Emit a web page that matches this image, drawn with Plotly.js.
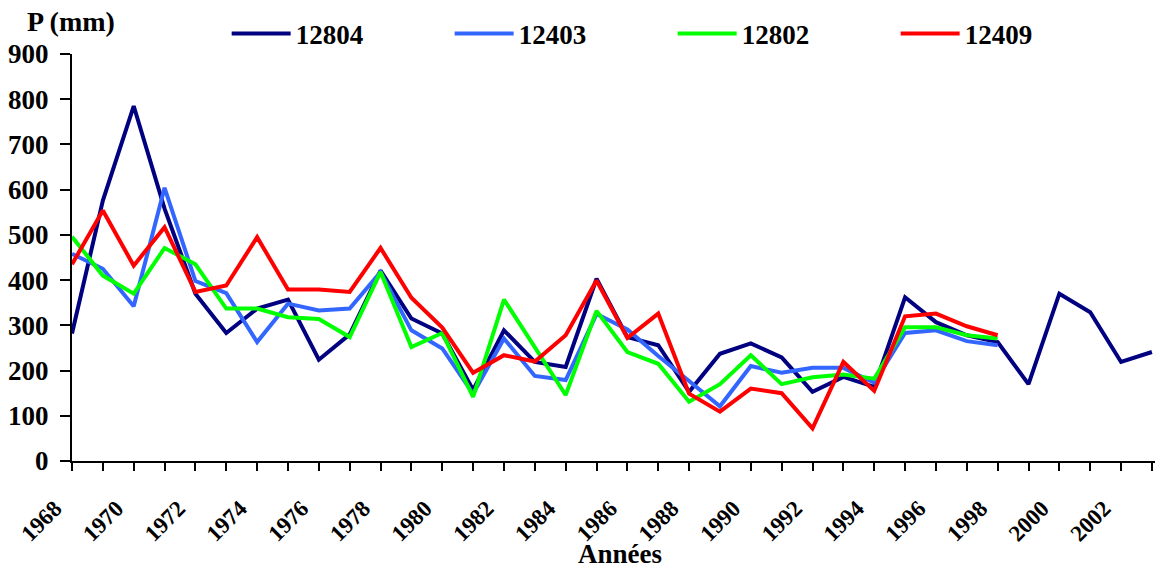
<!DOCTYPE html>
<html>
<head>
<meta charset="utf-8">
<script src="https://cdn.plot.ly/plotly-3.0.1.min.js"></script>
<style>html,body{margin:0;padding:0;background:#fff;}#chart{width:1155px;height:569px;}</style>
</head>
<body>
<div id="chart"></div>
<script>
const years = [1968,1969,1970,1971,1972,1973,1974,1975,1976,1977,1978,1979,1980,1981,1982,1983,1984,1985,1986,1987,1988,1989,1990,1991,1992,1993,1994,1995,1996,1997,1998,1999,2000,2001,2002,2003];

const s12804 = [282,576,785,558,370,283,337,357,224,280,421,315,282,157,289,219,208,403,274,256,153,237,260,229,153,186,164,362,307,278,263,170,370,329,219,241];
const s12403 = [458,425,342,604,398,371,263,348,333,337,418,289,249,149,271,188,179,325,291,232,177,121,210,195,206,206,173,283,289,265,256];
const s12802 = [496,410,370,471,435,337,337,318,314,274,418,252,283,142,357,250,146,332,241,215,131,170,234,170,185,191,182,296,296,278,271];
const s12409 = [435,554,432,517,374,388,495,379,379,374,471,361,295,195,234,220,278,399,272,326,149,109,160,150,72,219,155,320,326,298,278];

const seriesNames = ['12804','12403','12802','12409'];
const seriesColors = ['#000080','#3366FF','#00FF00','#FF0000'];
const seriesValues = [s12804, s12403, s12802, s12409];

const tickVals = years;
const tickText = years.map(y => (y % 2 === 0 ? String(y) : ''));
const yTicks = [0,100,200,300,400,500,600,700,800,900];

const FONT = '"Liberation Serif", "Times New Roman", serif';

const traces = seriesValues.map((vals, i) => ({
  x: years.slice(0, vals.length),
  y: vals,
  name: seriesNames[i],
  type: 'scatter',
  mode: 'lines',
  line: {color: seriesColors[i], width: 4},
  cliponaxis: false
}));

const layout = {
  width: 1155,
  height: 569,
  margin: {l: 72, r: 0, t: 54, b: 108, autoexpand: false},
  paper_bgcolor: '#fff',
  plot_bgcolor: '#fff',
  font: {family: FONT, color: '#000', size: 24, weight: 'bold'},
  showlegend: true,
  legend: {
    orientation: 'h',
    x: 0.1428, xanchor: 'left',
    y: 1.049, yanchor: 'middle',
    font: {family: FONT, size: 27, color: '#000', weight: 'bold'},
    itemwidth: 59,
    entrywidth: 149,
    entrywidthmode: 'pixels',
    bgcolor: 'rgba(0,0,0,0)',
    traceorder: 'normal',
    tracegroupgap: 0
  },
  xaxis: {
    range: [1968, 2003.1],
    tickmode: 'array',
    tickvals: tickVals,
    ticktext: tickText,
    tickangle: -45,
    ticks: 'outside',
    ticklen: 8,
    tickwidth: 2,
    tickcolor: '#000',
    ticklabelstandoff: 15,
    ticklabelshift: -17,
    showline: true,
    linecolor: '#000',
    linewidth: 2,
    showgrid: false,
    zeroline: false,
    tickfont: {family: FONT, size: 23, color: '#000', weight: 'bold'}
  },
  yaxis: {
    range: [0, 900],
    tickmode: 'array',
    tickvals: yTicks,
    ticks: 'outside',
    ticklen: 10,
    tickwidth: 2,
    tickcolor: '#000',
    ticklabelstandoff: 6,
    showline: true,
    linecolor: '#000',
    linewidth: 2,
    showgrid: false,
    zeroline: false,
    tickfont: {family: FONT, size: 27, color: '#000', weight: 'bold'}
  },
  annotations: [{
    text: 'P (mm)',
    xref: 'paper', yref: 'paper',
    x: -0.0434, y: 1.081,
    xanchor: 'left', yanchor: 'middle',
    showarrow: false,
    font: {family: FONT, size: 28, color: '#000', weight: 'bold'}
  }, {
    text: 'Années',
    xref: 'paper', yref: 'paper',
    x: 0.506, y: -0.228,
    xanchor: 'center', yanchor: 'middle',
    showarrow: false,
    font: {family: FONT, size: 27, color: '#000', weight: 'bold'}
  }]
};

Plotly.newPlot('chart', traces, layout, {displayModeBar: false, responsive: false});
</script>
</body>
</html>
